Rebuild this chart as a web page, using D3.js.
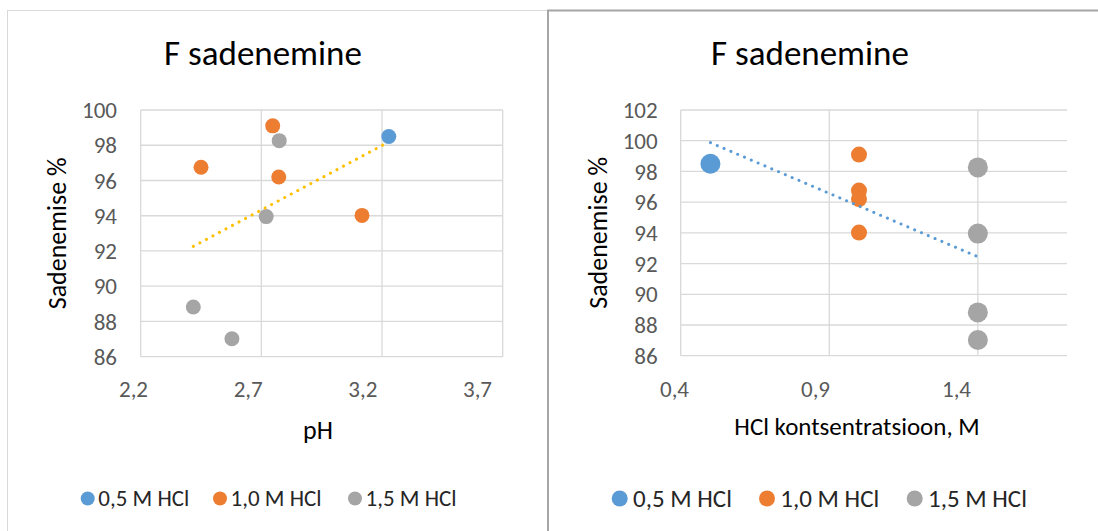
<!DOCTYPE html>
<html>
<head>
<meta charset="utf-8">
<script src="https://cdn.jsdelivr.net/npm/d3@7"></script>
<style>
	body { margin: 0; background: #fff; }
	text { font-family: Calibri, Carlito, Lato, sans-serif; }
</style>
</head>
<body>
<div id="svg_goes_here"></div>
<script>
//Series names, as in the legend
var series_names = ['0,5 M HCl', '1,0 M HCl', '1,5 M HCl'];

//pH of each sample, per series
var ph_05 = [3.228];
var ph_10 = [2.747, 2.45, 2.772, 3.117];
var ph_15 = [2.774, 2.72, 2.418, 2.578];

//HCl concentration, M
var hcl_05 = [0.5];
var hcl_10 = [1.0, 1.0, 1.0, 1.0];
var hcl_15 = [1.4, 1.4, 1.4, 1.4];

//Sadenemise %
var sad_05 = [98.5];
var sad_10 = [99.1, 96.75, 96.2, 94.02];
var sad_15 = [98.26, 93.95, 88.82, 87.02];

//Tick labels
var ph_ticks = [2.2, 2.7, 3.2, 3.7];
var hcl_ticks = [0.4, 0.9, 1.4];
var sad_ticks_left = [86, 88, 90, 92, 94, 96, 98, 100];
var sad_ticks_right = [86, 88, 90, 92, 94, 96, 98, 100, 102];

var settings = {
	width: 1098,
	height: 531,
	colours: ['#5B9BD5', '#ED7D31', '#A5A5A5'],
	grid_colour: '#D9D9D9',
	tick_colour: '#595959',
	font: 'Calibri, Carlito, Lato, sans-serif'
}

var svg = d3.select('#svg_goes_here')
	.append('svg')
	.attr('width', settings.width)
	.attr('height', settings.height);

//chart frames
svg.append('rect')
	.attr('x', 7.5).attr('y', 10.5)
	.attr('width', 540).attr('height', 540)
	.style('fill', 'none')
	.style('stroke', '#D9D9D9');
svg.append('path')
	.attr('d', 'M548,' + settings.height + 'V10.5H' + settings.width)
	.style('fill', 'none')
	.style('stroke', '#A6A6A6')
	.style('stroke-width', 2);

function comma(d){
	return d3.format(d % 1 == 0 ? 'd' : '.1f')(d).replace('.', ',');
}

//least squares line over all the points, like Excel's linear trendline
function trend_line(xs, ys){
	var mx = d3.mean(xs), my = d3.mean(ys);
	var sxy = d3.sum(xs, function(x, k){ return (x - mx) * (ys[k] - my); });
	var sxx = d3.sum(xs, function(x){ return (x - mx) * (x - mx); });
	var slope = sxy / sxx;
	var lo = d3.min(xs), hi = d3.max(xs);
	return [[lo, my + slope * (lo - mx)], [hi, my + slope * (hi - mx)]];
}

function draw_chart(c){
	var g = svg.append('g');
	var x = d3.scaleLinear().domain(c.x_domain).range([c.left, c.right]);
	var y = d3.scaleLinear().domain(c.y_domain).range([c.bottom, c.top]);
	//labels sit a little left of their gridlines in the original
	var x_lab = d3.scaleLinear().domain(c.x_domain).range(c.label_range);

	//title
	g.append('text')
		.attr('x', c.title_x).attr('y', 65)
		.attr('text-anchor', 'middle')
		.style('font-size', '35px')
		.style('fill', '#000')
		.text('F sadenemine');

	//grid
	g.selectAll('.hgrid')
		.data(c.y_ticks)
		.enter().append('line')
		.attr('x1', c.left).attr('x2', c.right)
		.attr('y1', function(d){ return y(d); })
		.attr('y2', function(d){ return y(d); })
		.style('stroke', settings.grid_colour)
		.style('stroke-width', 1.3);
	g.selectAll('.vgrid')
		.data(c.x_ticks)
		.enter().append('line')
		.attr('x1', function(d){ return x(d); })
		.attr('x2', function(d){ return x(d); })
		.attr('y1', c.top).attr('y2', c.bottom)
		.style('stroke', settings.grid_colour)
		.style('stroke-width', 1.3);

	//axes
	var ya = g.append('g')
		.attr('transform', 'translate(' + c.ylab_x + ',0)')
		.call(d3.axisLeft(y).tickValues(c.y_ticks).tickSize(0).tickPadding(0).tickFormat(comma));
	var xa = g.append('g')
		.attr('transform', 'translate(0,381)')
		.call(d3.axisBottom(x_lab).tickValues(c.x_ticks).tickSize(0).tickPadding(0).tickFormat(comma));
	[ya, xa].forEach(function(a){
		a.select('.domain').remove();
		a.selectAll('text')
			.style('font-size', '23px')
			.style('font-family', settings.font)
			.style('fill', settings.tick_colour);
	});
	ya.selectAll('text').attr('dy', '0.33em');

	//axis titles
	g.append('text')
		.attr('transform', 'translate(' + c.ytitle_x + ',' + ((c.top + c.bottom) / 2) + ') rotate(-90)')
		.attr('text-anchor', 'middle')
		.attr('dy', '0.33em')
		.style('font-size', '26px')
		.text('Sadenemise %');
	g.append('text')
		.attr('x', c.xtitle_x).attr('y', c.xtitle_y)
		.attr('text-anchor', 'middle')
		.attr('dy', '0.33em')
		.style('font-size', c.xtitle_size)
		.text(c.x_title);

	//points
	c.xs.forEach(function(xs, s){
		g.selectAll('.s' + s)
			.data(xs)
			.enter().append('circle')
			.attr('cx', function(d){ return x(d); })
			.attr('cy', function(d, k){ return y(c.ys[s][k]); })
			.attr('r', c.radius[s])
			.style('fill', settings.colours[s]);
	});

	//trendline over every point
	var t = trend_line(d3.merge(c.xs), d3.merge(c.ys));
	g.append('path')
		.attr('d', d3.line().x(function(d){ return x(d[0]); }).y(function(d){ return y(d[1]); })(t))
		.style('fill', 'none')
		.style('stroke', c.trend_colour)
		.style('stroke-width', 3)
		.style('stroke-linecap', 'round')
		.style('stroke-dasharray', '0.1 7.3');

	//legend
	var lg = g.selectAll('.legend')
		.data(series_names)
		.enter().append('g')
		.attr('transform', function(d, s){ return 'translate(' + c.legend_x[s] + ',498.5)'; });
	lg.append('circle')
		.attr('r', c.legend_r)
		.style('fill', function(d, s){ return settings.colours[s]; });
	lg.append('text')
		.attr('x', c.legend_gap)
		.attr('dy', '0.33em')
		.style('font-size', c.legend_size)
		.style('fill', '#262626')
		.text(function(d){ return d; });
}

draw_chart({
	x_domain: [2.2, 3.7], y_domain: [86, 100],
	left: 140.7, right: 502.7, top: 110, bottom: 356.7,
	label_range: [133, 477],
	x_ticks: ph_ticks, y_ticks: sad_ticks_left,
	xs: [ph_05, ph_10, ph_15], ys: [sad_05, sad_10, sad_15],
	radius: [7.5, 7.5, 7.5],
	trend_colour: '#FFC000',
	title_x: 263, ytitle_x: 57, ylab_x: 117,
	xtitle_x: 318, xtitle_y: 430, xtitle_size: '26px',
	x_title: 'pH',
	legend_x: [87.7, 220, 355], legend_r: 7, legend_gap: 10.6, legend_size: '23px'
});

draw_chart({
	x_domain: [0.4, 1.7], y_domain: [86, 102],
	left: 680.7, right: 1067, top: 110, bottom: 355.7,
	label_range: [674, 674 + 1.3 * 282],
	x_ticks: hcl_ticks, y_ticks: sad_ticks_right,
	xs: [hcl_05, hcl_10, hcl_15], ys: [sad_05, sad_10, sad_15],
	radius: [10, 8, 10],
	trend_colour: '#5B9BD5',
	title_x: 810, ytitle_x: 598, ylab_x: 657.7,
	xtitle_x: 857, xtitle_y: 427, xtitle_size: '25px',
	x_title: 'HCl kontsentratsioon, M',
	legend_x: [619.7, 767, 914.7], legend_r: 8, legend_gap: 13.3, legend_size: '25px'
});
</script>
</body>
</html>
